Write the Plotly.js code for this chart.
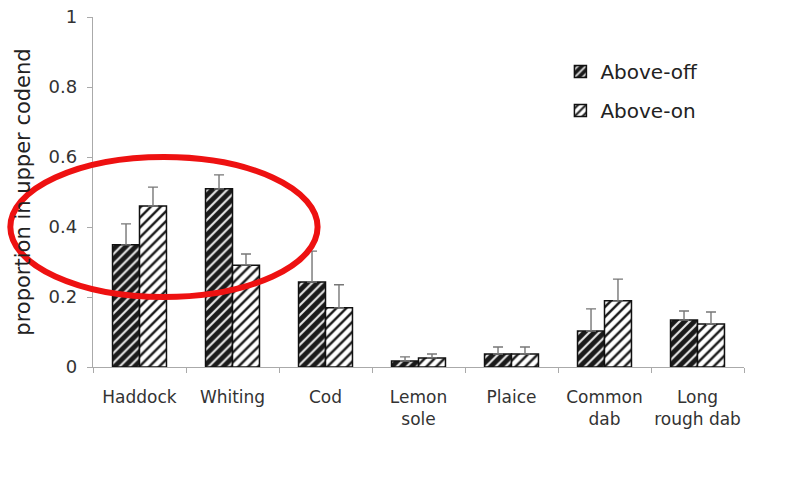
<!DOCTYPE html>
<html><head><meta charset="utf-8">
<script src="https://cdn.plot.ly/plotly-3.0.1.min.js"></script>
<style>html,body{margin:0;padding:0;background:#fff}</style>
</head><body><div id="chart" style="width:796px;height:484px"></div>
<script>
const categories = ["Haddock","Whiting","Cod","Lemon<br>sole","Plaice","Common<br>dab","Long<br>rough dab"];
const aboveOff = [0.349,0.509,0.243,0.017,0.037,0.103,0.134];
const aboveOffErr = [0.060,0.040,0.088,0.012,0.020,0.063,0.026];
const aboveOn = [0.460,0.291,0.169,0.026,0.037,0.189,0.123];
const aboveOnErr = [0.054,0.032,0.066,0.011,0.020,0.062,0.034];
const zeros = categories.map(()=>0);

const errStyle = {color:'#777', thickness:1.4, width:5};
const traces = [
 {type:'bar', name:'Above-off', legendgroup:'a', x:categories, y:aboveOff,
  marker:{color:'#1a1a1a', line:{color:'#111',width:1.5},
    pattern:{shape:'/', fgcolor:'#e8e8e8', bgcolor:'#1a1a1a', size:7, solidity:0.3}},
  error_y:Object.assign({type:'data', symmetric:false, array:aboveOffErr, arrayminus:zeros}, errStyle)},
 {type:'bar', name:'Above-on', legendgroup:'b', x:categories, y:aboveOn,
  marker:{color:'#ffffff', line:{color:'#111',width:1.5},
    pattern:{shape:'/', fgcolor:'#1a1a1a', bgcolor:'#ffffff', size:7, solidity:0.35}},
  error_y:Object.assign({type:'data', symmetric:false, array:aboveOnErr, arrayminus:zeros}, errStyle)}
];

const layout = {
  width:796, height:484,
  margin:{l:93, r:52, t:17, b:117},
  paper_bgcolor:'#fff', plot_bgcolor:'#fff',
  font:{family:'"DejaVu Sans", sans-serif', color:'#333'},
  barmode:'group', bargap:0.42, bargroupgap:0,
  showlegend:true,
  legend:{x:0.718, y:0.9, xanchor:'left', yanchor:'top', bgcolor:'rgba(0,0,0,0)',
    font:{size:20, color:'#222'}, itemwidth:30, traceorder:'grouped', tracegroupgap:10},
  xaxis:{showline:true, linecolor:'#aaa', linewidth:1.2, ticks:'outside', tickson:'boundaries',
    ticklen:5, tickcolor:'#aaa', tickfont:{size:17, color:'#333'}, ticklabelstandoff:14,
    tickangle:0, showgrid:false, zeroline:false},
  yaxis:{range:[0,1], dtick:0.2, showline:true, linecolor:'#aaa', linewidth:1.2, ticks:'outside',
    ticklen:5, tickcolor:'#aaa', tickfont:{size:18, color:'#333'}, ticklabelstandoff:6,
    showgrid:false, zeroline:false,
    title:{text:'proportion in upper codend', font:{size:21, color:'#222'}, standoff:12}},
  shapes:[{type:'circle', xref:'paper', yref:'y', x0:-0.127, x1:0.345, y0:0.2, y1:0.6,
    line:{color:'#ee1111', width:6}, fillcolor:'rgba(0,0,0,0)', layer:'above'}]
};
Plotly.newPlot('chart', traces, layout, {displayModeBar:false, staticPlot:true});
</script></body></html>
